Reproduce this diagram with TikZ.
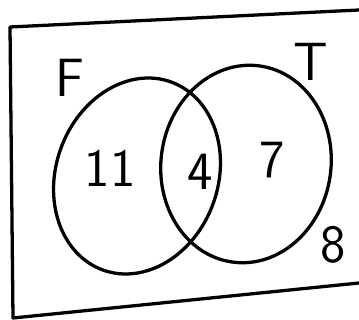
\documentclass[tikz,border=0pt]{standalone}
\usepackage{tikz}
\begin{document}
\begin{tikzpicture}[
  x=0.03cm, y=-0.03cm,
  every node/.style={font=\sffamily\fontsize{46}{46}\selectfont},
  hand/.style={line width=2.8pt, line cap=round, line join=round}
]
\useasboundingbox (0,0) rectangle (359,320);
% frame
\draw[hand] (13,318) -- (10,27) -- (359,10);
\draw[hand] (13,318) -- (359,283);
% sets F and T
\draw[hand, rotate around={-20:(137,176)}] (137,176) ellipse [x radius=81, y radius=100];
\draw[hand, rotate around={-8:(246,164)}] (246,164) ellipse [x radius=85, y radius=99];
% labels
\node (labF) at (70,78) {F};
\node (labT) at (311,62) {T};
\node (onlyF) at (110,168) {11};
\node (both) at (200,172) {4};
\node (onlyT) at (272,160) {7};
\node (none) at (333,245) {8};
\end{tikzpicture}
\end{document}
